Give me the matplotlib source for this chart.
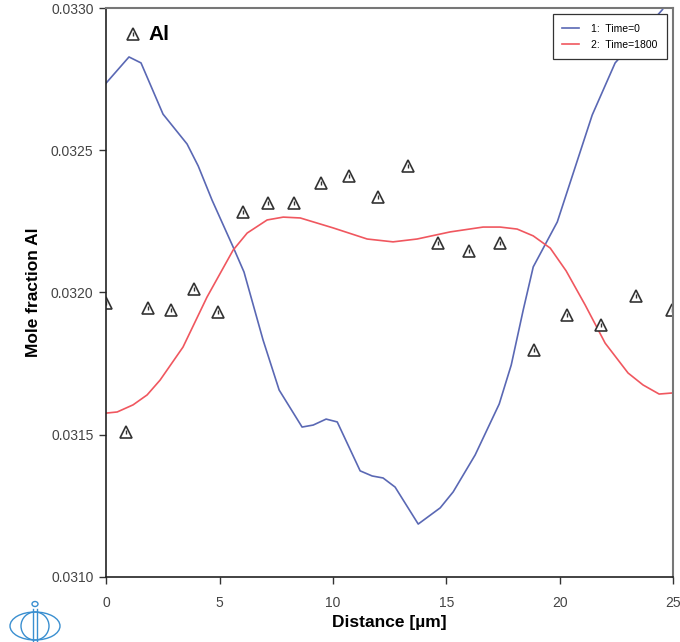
import matplotlib.pyplot as plt
from matplotlib.patches import Ellipse
from matplotlib.lines import Line2D

plt.rcParams['font.family'] = ['Liberation Sans', 'DejaVu Sans']

# Time=0 profile (initial)
x_t0 = [0.0, 1.01, 1.54, 2.51, 3.57, 4.06, 4.67, 5.60, 6.08, 6.92, 7.63, 8.64,
        9.13, 9.70, 10.19, 11.20, 11.73, 12.21, 12.74, 13.76, 14.73, 15.30,
        16.27, 17.33, 17.86, 18.39, 18.83, 19.89, 21.43, 22.44, 24.51, 25.0]
y_t0 = [0.032736, 0.032828, 0.032807, 0.032627, 0.032522, 0.032445, 0.032325,
        0.032160, 0.032072, 0.031833, 0.031657, 0.031527, 0.031534, 0.031555,
        0.031545, 0.031373, 0.031355, 0.031348, 0.031316, 0.031186, 0.031243,
        0.031299, 0.031429, 0.031608, 0.031745, 0.031939, 0.032090, 0.032248,
        0.032624, 0.032807, 0.032993, 0.033050]

# Time=1800 profile
x_t1800 = [0.0, 0.49, 1.19, 1.81, 2.38, 3.39, 4.45, 5.60, 6.22, 7.10, 7.81, 8.56,
           10.01, 11.51, 12.65, 13.71, 15.17, 16.62, 17.37, 18.12, 18.83, 19.58,
           20.28, 21.12, 22.00, 23.01, 23.67, 24.38, 25.0]
y_t1800 = [0.031576, 0.031580, 0.031605, 0.031640, 0.031692, 0.031808, 0.031984,
           0.032149, 0.032209, 0.032255, 0.032265, 0.032262, 0.032227, 0.032188,
           0.032178, 0.032188, 0.032213, 0.032230, 0.032230, 0.032223, 0.032199,
           0.032156, 0.032076, 0.031956, 0.031822, 0.031717, 0.031675, 0.031643,
           0.031647]

# measured Al
x_exp = [0.0, 0.88, 1.85, 2.87, 3.88, 4.94, 6.04, 7.14, 8.29, 9.48, 10.71, 11.99,
         13.32, 14.64, 16.01, 17.37, 18.87, 20.33, 21.83, 23.37, 24.96]
y_exp = [0.031963, 0.031510, 0.031945, 0.031938, 0.032012, 0.031932, 0.032283,
         0.032315, 0.032315, 0.032385, 0.032409, 0.032336, 0.032445, 0.032174,
         0.032146, 0.032174, 0.031798, 0.031921, 0.031886, 0.031988, 0.031938]

blue = '#5a68b4'
red = '#f0575f'
mk = '#333333'

fig = plt.figure(figsize=(6.8, 6.42), dpi=100)
ax = fig.add_axes([0.156, 0.1013, 0.834, 0.8862])

l1, = ax.plot(x_t0, y_t0, color=blue, lw=1.2, label='1:  Time=0')
l2, = ax.plot(x_t1800, y_t1800, color=red, lw=1.2, label='2:  Time=1800')
ax.plot(x_exp, y_exp, ls='none', marker='^', ms=8.5, mfc='white', mec=mk, mew=1.2)
ax.plot(x_exp, y_exp, ls='none', marker='|', ms=3.5, mec=mk, mew=1.0)

# dataset label
ax.plot([0.047], [0.955], transform=ax.transAxes, marker='^', ms=8.5, mfc='white',
        mec=mk, mew=1.2, clip_on=False)
ax.plot([0.047], [0.955], transform=ax.transAxes, marker='|', ms=3.5, mec=mk, mew=1.0)
ax.text(0.075, 0.953, 'Al', transform=ax.transAxes, fontsize=15, fontweight='bold',
        va='center', ha='left')

ax.set_xlim(0, 25)
ax.set_ylim(0.0310, 0.0330)
ax.set_xticks([0, 5, 10, 15, 20, 25])
ax.set_yticks([0.0310, 0.0315, 0.0320, 0.0325, 0.0330])
ax.set_yticklabels(['0.0310', '0.0315', '0.0320', '0.0325', '0.0330'])
ax.tick_params(direction='out', length=5, width=1, colors='#333333',
               labelcolor='#444444', labelsize=10, pad=4)
ax.tick_params(axis='x', pad=9)

for s in ['left', 'bottom']:
    ax.spines[s].set_color('#222222')
    ax.spines[s].set_linewidth(1.2)
for s in ['top', 'right']:
    ax.spines[s].set_color('#777777')
    ax.spines[s].set_linewidth(1.5)

ax.set_xlabel('Distance [µm]', fontsize=12.5, fontweight='bold', labelpad=3)
ax.set_ylabel('Mole fraction Al', fontsize=12.5, fontweight='bold', labelpad=7)

leg = ax.legend(handles=[l1, l2], loc='upper right', bbox_to_anchor=(0.989, 0.989),
                borderaxespad=0, fontsize=7.5, fancybox=False, framealpha=1,
                edgecolor='#333333', handlelength=1.6, borderpad=0.9,
                labelspacing=0.6, handletextpad=1.2)
leg.get_frame().set_linewidth(0.9)

# logo
logo = '#3a8fd0'
W, H = 680.0, 642.0
def fx(p):
    return p / W
def fy(p):
    return 1 - p / H
fig.patches.append(Ellipse((fx(35), fy(626)), 50 / W, 28 / H, fill=False, ec=logo,
                           lw=1.0, transform=fig.transFigure))
fig.patches.append(Ellipse((fx(35), fy(626)), 28 / W, 28 / H, fill=False, ec=logo,
                           lw=1.0, transform=fig.transFigure))
fig.patches.append(Ellipse((fx(35), fy(604)), 6 / W, 5 / H, fill=False, ec=logo,
                           lw=1.0, transform=fig.transFigure))
for xp in [33, 37]:
    fig.lines.append(Line2D([fx(xp), fx(xp)], [fy(609), fy(641)], color=logo, lw=1.0,
                            transform=fig.transFigure))

fig.savefig('out.png', dpi=100)
